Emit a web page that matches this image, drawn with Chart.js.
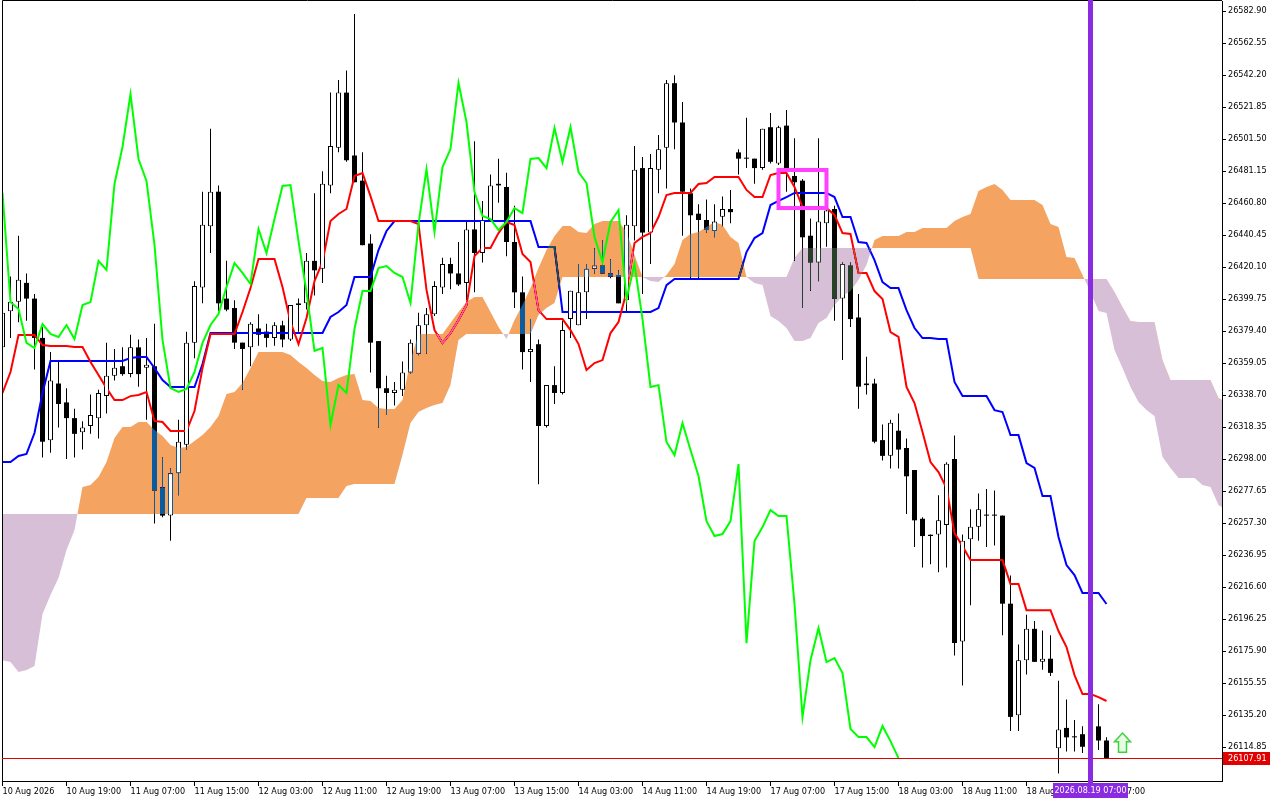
<!DOCTYPE html>
<html>
<head>
<meta charset="utf-8">
<title>Ichimoku H1</title>
<script src="https://cdn.jsdelivr.net/npm/chart.js@4.4.1/dist/chart.umd.min.js"></script>
<style>
  html, body { margin: 0; padding: 0; background: #fff; }
  canvas { display: block; }
</style>
</head>
<body>
<canvas id="ichimokuChart" width="1280" height="800"></canvas>
<script>
const FONT = "'DejaVu Sans Condensed', 'DejaVu Sans', sans-serif";

// time axis: one label every 8 bars
const tickBars = [0, 8, 16, 24, 32, 40, 48, 56, 64, 72, 80, 88, 96, 104, 112, 120, 128, 136];
const timeLabels = ['10 Aug 2026', '10 Aug 19:00', '11 Aug 07:00', '11 Aug 15:00', '12 Aug 03:00',
  '12 Aug 11:00', '12 Aug 19:00', '13 Aug 07:00', '13 Aug 15:00', '14 Aug 03:00', '14 Aug 11:00',
  '14 Aug 19:00', '17 Aug 07:00', '17 Aug 15:00', '18 Aug 03:00', '18 Aug 11:00', '18 Aug 19:00', '19 Aug 07:00'];

const priceTicks = [26582.90, 26562.55, 26542.20, 26521.85, 26501.50, 26481.15, 26460.80, 26440.45,
  26420.10, 26399.75, 26379.40, 26359.05, 26338.70, 26318.35, 26298.00, 26277.65, 26257.30, 26236.95,
  26216.60, 26196.25, 26175.90, 26155.55, 26135.20, 26114.85];

const opens = [
  26369, 26392, 26398, 26410, 26400, 26375, 26310, 26346, 26334, 26324,
  26315, 26319, 26324, 26338, 26351, 26357, 26352, 26369, 26356, 26357,
  26280, 26262, 26289, 26307, 26372, 26407, 26446, 26468, 26400, 26394,
  26372, 26369, 26381, 26379, 26375, 26383, 26374, 26396, 26397, 26424,
  26419, 26472, 26496, 26531, 26491, 26475, 26435, 26373, 26343, 26340,
  26342, 26353, 26365, 26383, 26390, 26407, 26422, 26416, 26410, 26444,
  26429, 26450, 26473, 26471, 26436, 26404, 26366, 26371, 26319, 26345,
  26340, 26387, 26383, 26404, 26419, 26421, 26416, 26415, 26399, 26446,
  26483, 26442, 26482, 26496, 26537, 26512, 26467, 26454, 26450, 26443,
  26452, 26457, 26493, 26489, 26489, 26483, 26509, 26486, 26510, 26478,
  26475, 26440, 26423, 26448, 26457, 26400, 26421, 26388, 26346, 26346,
  26310, 26300, 26316, 26305, 26291, 26260, 26249, 26250, 26256, 26298,
  26182, 26247, 26255, 26262, 26262, 26262, 26206, 26135, 26170, 26190,
  26169, 26171, 26114, 26127, 26121, 26123, 26119, 26128, 26119];
const highs = [
  26396, 26414, 26440, 26416, 26403, 26382, 26366, 26361, 26343, 26330,
  26322, 26339, 26342, 26372, 26368, 26369, 26377, 26374, 26375, 26384,
  26299, 26292, 26323, 26379, 26411, 26468, 26508, 26472, 26424, 26399,
  26372, 26385, 26390, 26384, 26385, 26386, 26396, 26400, 26429, 26467,
  26481, 26531, 26539, 26545, 26581, 26493, 26441, 26373, 26351, 26347,
  26360, 26374, 26391, 26394, 26411, 26426, 26426, 26436, 26449, 26500,
  26462, 26479, 26489, 26480, 26459, 26414, 26387, 26374, 26345, 26357,
  26386, 26405, 26422, 26422, 26432, 26437, 26425, 26418, 26453, 26497,
  26490, 26492, 26504, 26539, 26542, 26525, 26470, 26460, 26463, 26460,
  26465, 26469, 26495, 26515, 26489, 26508, 26518, 26510, 26520, 26502,
  26476, 26451, 26502, 26458, 26459, 26423, 26423, 26403, 26363, 26349,
  26320, 26323, 26327, 26311, 26291, 26261, 26250, 26275, 26296, 26313,
  26250, 26266, 26276, 26279, 26278, 26262, 26224, 26180, 26199, 26195,
  26189, 26186, 26157, 26145, 26132, 26128, 26133, 26142, 26121];
const lows = [
  26364, 26375, 26385, 26386, 26355, 26299, 26302, 26318, 26298, 26299,
  26304, 26314, 26311, 26327, 26348, 26351, 26350, 26344, 26323, 26257,
  26261, 26246, 26275, 26304, 26362, 26397, 26429, 26392, 26392, 26368,
  26342, 26357, 26370, 26369, 26370, 26369, 26373, 26379, 26393, 26402,
  26410, 26467, 26493, 26487, 26474, 26434, 26353, 26318, 26326, 26332,
  26338, 26352, 26364, 26365, 26389, 26403, 26406, 26408, 26399, 26404,
  26423, 26449, 26461, 26427, 26394, 26355, 26347, 26282, 26318, 26333,
  26339, 26375, 26383, 26387, 26416, 26416, 26413, 26397, 26392, 26437,
  26403, 26422, 26467, 26470, 26495, 26440, 26413, 26413, 26442, 26439,
  26446, 26448, 26479, 26483, 26473, 26482, 26486, 26485, 26468, 26424,
  26394, 26405, 26411, 26433, 26386, 26361, 26382, 26330, 26339, 26308,
  26297, 26292, 26292, 26263, 26242, 26229, 26231, 26226, 26229, 26173,
  26154, 26205, 26246, 26242, 26243, 26186, 26125, 26125, 26161, 26169,
  26164, 26160, 26098, 26112, 26112, 26111, 26114, 26113, 26107.91];
const closes = [
  26391, 26398, 26412, 26400, 26375, 26309, 26348, 26333, 26324, 26314,
  26318, 26326, 26340, 26351, 26356, 26352, 26369, 26352, 26358, 26278,
  26262, 26289, 26309, 26372, 26408, 26447, 26468, 26397, 26393, 26372,
  26368, 26384, 26377, 26375, 26383, 26374, 26396, 26397, 26424, 26418,
  26473, 26497, 26531, 26488, 26474, 26434, 26372, 26343, 26340, 26342,
  26353, 26372, 26383, 26390, 26408, 26422, 26416, 26409, 26444, 26429,
  26450, 26472, 26472, 26436, 26404, 26366, 26368, 26319, 26345, 26340,
  26380, 26405, 26404, 26419, 26421, 26416, 26414, 26397, 26447, 26482,
  26442, 26483, 26495, 26537, 26512, 26468, 26453, 26450, 26444, 26449,
  26457, 26455, 26489, 26489, 26483, 26508, 26487, 26509, 26481, 26474,
  26439, 26423, 26449, 26456, 26400, 26422, 26387, 26344, 26345, 26309,
  26300, 26321, 26304, 26287, 26259, 26249, 26250, 26259, 26295, 26181,
  26246, 26255, 26266, 26262, 26262, 26206, 26134, 26170, 26190, 26169,
  26171, 26162, 26126, 26121, 26121, 26115, 26128, 26119, 26107.91];

// Tenkan-sen (red)
const tenkan = [
  26340.0, 26353.3, 26376.8, 26376.8, 26376.8, 26370.5, 26369.8, 26369.8, 26369.8, 26369.2,
  26369.2, 26359.7, 26351.4, 26343.1, 26335.5, 26335.5, 26338.0, 26338.7, 26340.6, 26322.2,
  26321.5, 26315.8, 26315.8, 26315.8, 26328.5, 26355.9, 26377.5, 26377.5, 26377.5, 26377.5,
  26391.5, 26406.7, 26425.2, 26425.2, 26425.2, 26407.4, 26385.1, 26371.1, 26387.7, 26411.2,
  26423.3, 26449.3, 26453.8, 26457.0, 26478.0, 26479.9, 26465.2, 26449.3, 26449.3, 26449.3,
  26449.3, 26449.3, 26447.4, 26405.5, 26380.0, 26371.8, 26378.1, 26386.4, 26395.9, 26427.1,
  26432.2, 26432.2, 26441.7, 26448.7, 26446.8, 26428.4, 26423.3, 26392.7, 26387.0, 26387.0,
  26387.0, 26380.0, 26371.1, 26354.6, 26359.0, 26360.9, 26378.1, 26385.1, 26404.2, 26435.4,
  26439.2, 26441.7, 26451.9, 26465.9, 26467.2, 26467.2, 26467.2, 26472.9, 26473.5, 26477.3,
  26477.3, 26477.3, 26477.3, 26469.1, 26464.6, 26464.6, 26478.6, 26479.9, 26479.9, 26471.0,
  26458.2, 26458.2, 26458.2, 26457.6, 26453.2, 26441.7, 26441.1, 26416.3, 26416.3, 26404.8,
  26399.7, 26378.7, 26375.6, 26343.8, 26333.6, 26315.2, 26296.1, 26289.7, 26279.5, 26250.9,
  26242.6, 26233.7, 26233.7, 26233.7, 26233.7, 26233.7, 26218.5, 26218.5, 26201.9, 26201.9,
  26201.9, 26201.9, 26188.6, 26178.4, 26160.6, 26148.5, 26148.5, 26146.6, 26144.1];

// Kijun-sen (blue)
const kijun = [
  26296.1, 26296.1, 26299.9, 26301.2, 26314.5, 26340.0, 26360.3, 26360.3, 26360.3, 26360.3,
  26360.3, 26360.3, 26360.3, 26360.3, 26360.3, 26360.3, 26362.2, 26362.8, 26362.8, 26355.9,
  26348.2, 26343.8, 26343.8, 26343.8, 26343.8, 26358.4, 26378.1, 26378.1, 26378.1, 26378.1,
  26378.1, 26378.1, 26378.1, 26378.1, 26378.1, 26378.1, 26378.1, 26378.1, 26378.1, 26378.1,
  26378.1, 26388.3, 26391.5, 26395.9, 26413.7, 26413.7, 26413.7, 26430.9, 26443.0, 26449.3,
  26449.3, 26449.3, 26449.3, 26449.3, 26449.3, 26449.3, 26449.3, 26449.3, 26449.3, 26449.3,
  26449.3, 26449.3, 26449.3, 26449.3, 26449.3, 26449.3, 26449.3, 26432.8, 26432.8, 26432.8,
  26391.5, 26391.5, 26391.5, 26391.5, 26391.5, 26391.5, 26391.5, 26391.5, 26391.5, 26391.5,
  26391.5, 26391.5, 26394.0, 26408.6, 26412.5, 26412.5, 26412.5, 26412.5, 26412.5, 26412.5,
  26412.5, 26412.5, 26412.5, 26429.6, 26438.5, 26441.7, 26459.5, 26462.1, 26464.6, 26467.2,
  26467.2, 26467.2, 26467.2, 26467.2, 26464.6, 26451.9, 26451.9, 26436.0, 26435.4, 26424.5,
  26410.5, 26406.7, 26406.7, 26392.7, 26381.3, 26374.9, 26374.9, 26374.3, 26374.3, 26347.0,
  26338.0, 26338.0, 26338.0, 26338.0, 26329.1, 26327.9, 26313.2, 26313.2, 26295.4, 26292.3,
  26274.4, 26274.4, 26248.4, 26230.6, 26224.2, 26212.8, 26212.8, 26212.8, 26205.8];

// Senkou Span A / B (cloud, already shifted forward)
const spanA = [
  26170.1, 26168.9, 26162.5, 26163.8, 26166.3, 26199.4, 26211.5, 26222.3, 26240.1, 26252.8,
  26280.2, 26281.4, 26286.5, 26296.1, 26311.3, 26318.3, 26318.3, 26321.5, 26321.5, 26316.4,
  26312.6, 26306.9, 26305.0, 26305.6, 26309.4, 26313.2, 26318.3, 26325.3, 26339.3, 26340.6,
  26346.3, 26355.9, 26366.0, 26366.0, 26366.0, 26366.0, 26364.1, 26359.7, 26355.9, 26351.4,
  26347.6, 26346.9, 26349.5, 26351.4, 26352.0, 26335.5, 26334.9, 26330.4, 26329.8, 26329.8,
  26335.5, 26360.9, 26377.5, 26377.5, 26377.5, 26377.5, 26384.5, 26391.5, 26397.8, 26401.0,
  26401.0, 26391.5, 26381.9, 26374.3, 26386.4, 26395.9, 26406.7, 26419.5, 26430.9, 26439.8,
  26446.2, 26446.2, 26442.4, 26441.7, 26447.4, 26449.3, 26449.3, 26449.3, 26442.4, 26427.7,
  26413.7, 26411.2, 26410.5, 26415.0, 26422.0, 26437.3, 26441.1, 26442.4, 26445.5, 26448.7,
  26446.8, 26439.2, 26435.4, 26413.7, 26409.9, 26408.6, 26388.9, 26385.7, 26381.3, 26373.0,
  26373.0, 26374.9, 26384.5, 26387.7, 26395.9, 26401.6, 26404.8, 26411.8, 26421.4, 26437.3,
  26439.8, 26439.8, 26439.8, 26442.4, 26442.4, 26444.9, 26444.9, 26444.9, 26444.9, 26449.3,
  26451.9, 26453.8, 26468.4, 26471.0, 26472.9, 26469.1, 26462.7, 26462.7, 26462.7, 26462.7,
  26459.5, 26447.4, 26445.5, 26426.5, 26425.8, 26415.0, 26404.2, 26392.1, 26390.8, 26367.3,
  26355.9, 26343.8, 26334.2, 26329.1, 26325.3, 26299.2, 26292.3, 26285.9, 26285.9, 26285.9,
  26281.4, 26280.2, 26268.7, 26265.5];
const spanB = [
  26263.0, 26263.0, 26263.0, 26263.0, 26263.0, 26263.0, 26263.0, 26263.0, 26263.0, 26263.0,
  26263.0, 26263.0, 26263.0, 26263.0, 26263.0, 26263.0, 26263.0, 26263.0, 26263.0, 26263.0,
  26263.0, 26263.0, 26263.0, 26263.0, 26263.0, 26263.0, 26263.0, 26263.0, 26263.0, 26263.0,
  26263.0, 26263.0, 26263.0, 26263.0, 26263.0, 26263.0, 26263.0, 26263.0, 26273.2, 26273.2,
  26273.2, 26273.2, 26273.2, 26280.8, 26282.1, 26282.1, 26282.1, 26282.1, 26282.1, 26282.1,
  26300.5, 26320.9, 26327.9, 26330.4, 26332.3, 26333.6, 26345.0, 26373.7, 26377.5, 26377.5,
  26377.5, 26377.5, 26377.5, 26377.5, 26377.5, 26377.5, 26377.5, 26389.6, 26394.0, 26397.2,
  26413.7, 26413.7, 26413.7, 26413.7, 26413.7, 26413.7, 26413.7, 26413.7, 26413.7, 26413.7,
  26413.7, 26413.7, 26413.7, 26413.7, 26413.7, 26413.7, 26413.7, 26413.7, 26413.7, 26413.7,
  26413.7, 26413.7, 26413.7, 26413.7, 26413.7, 26413.7, 26413.7, 26413.7, 26413.7, 26425.8,
  26432.2, 26432.2, 26432.2, 26432.2, 26432.2, 26432.2, 26432.2, 26432.2, 26432.2, 26432.2,
  26432.2, 26432.2, 26432.2, 26432.2, 26432.2, 26432.2, 26432.2, 26432.2, 26432.2, 26432.2,
  26432.2, 26432.2, 26412.5, 26412.5, 26412.5, 26412.5, 26412.5, 26412.5, 26412.5, 26412.5,
  26412.5, 26412.5, 26412.5, 26412.5, 26412.5, 26412.5, 26412.5, 26412.5, 26412.5, 26404.2,
  26394.6, 26385.7, 26385.1, 26385.1, 26385.1, 26360.9, 26348.2, 26348.2, 26348.2, 26348.2,
  26348.2, 26348.2, 26336.8, 26334.2];

// Chikou span (green, shifted back)
const chikou = [
  26467.2, 26397.8, 26393.4, 26371.8, 26368.6, 26383.8, 26377.5, 26375.6, 26383.2, 26374.3,
  26395.9, 26397.8, 26423.9, 26418.2, 26472.9, 26496.4, 26530.1, 26488.8, 26474.8, 26434.1,
  26373.7, 26343.1, 26340.6, 26342.5, 26353.3, 26371.8, 26383.2, 26390.2, 26407.4, 26422.6,
  26416.3, 26409.3, 26444.3, 26429.0, 26450.6, 26471.6, 26472.2, 26436.6, 26404.2, 26366.7,
  26368.6, 26319.6, 26345.0, 26340.0, 26380.7, 26404.8, 26404.8, 26419.4, 26420.7, 26416.3,
  26413.7, 26397.2, 26447.4, 26482.4, 26442.4, 26483.7, 26495.1, 26537.1, 26512.3, 26467.8,
  26452.5, 26450.6, 26443.6, 26448.7, 26457.6, 26454.4, 26488.8, 26489.4, 26483.0, 26508.5,
  26486.9, 26509.1, 26480.5, 26473.5, 26439.2, 26423.3, 26448.7, 26456.3, 26399.7, 26422.0,
  26387.0, 26343.8, 26345.0, 26308.8, 26300.5, 26320.9, 26303.7, 26287.2, 26258.5, 26249.0,
  26250.3, 26258.5, 26294.8, 26180.9, 26245.8, 26254.7, 26265.5, 26261.7, 26261.7, 26205.8,
  26133.9, 26170.1, 26190.5, 26168.9, 26171.4, 26161.9, 26126.3, 26121.2, 26121.2, 26114.8,
  26128.2, 26118.6, 26107.8];

// chart objects drawn on top
const lastPrice = 26107.91;
const markerBar = 136;
const markerText = '2026.08.19 07:00';
const boxBars = [97, 103];
const boxPrices = [26457.6, 26481.8];
const arrowBar = 140;
const arrowPrices = [26111.6, 26123.7];

document.addEventListener("DOMContentLoaded", function () {

  const wicks = [], bullBodies = [], bearBodies = [];
  for (let i = 0; i < opens.length; i++) {
    wicks.push({ x: i, y: [lows[i], highs[i]] });
    if (closes[i] > opens[i]) bullBodies.push({ x: i, y: [opens[i], closes[i]] });
    else bearBodies.push({ x: i, y: [closes[i], opens[i]] });
  }
  const toPoints = arr => arr.map((v, i) => ({ x: i, y: v }));

  const overlay = {
    id: 'mt5Overlay',
    beforeDraw(chart) {
      const c = chart.ctx;
      c.save();
      c.fillStyle = '#fff';
      c.fillRect(0, 0, chart.width, chart.height);
      c.restore();
    },
    // the cloud is painted as an inverting fill, like the terminal does
    afterDatasetDraw(chart, args) {
      if (args.index === 5) chart.ctx.globalCompositeOperation = 'difference';
      if (args.index === 6) chart.ctx.globalCompositeOperation = 'source-over';
    },
    afterDraw(chart) {
      const c = chart.ctx;
      const xs = chart.scales.x, ys = chart.scales.y, area = chart.chartArea;
      c.save();
      c.globalCompositeOperation = 'source-over';

      // frame
      c.strokeStyle = '#000';
      c.lineWidth = 1;
      c.beginPath();
      c.moveTo(area.left + 0.5, area.bottom);
      c.lineTo(area.left + 0.5, area.top - 0.5);
      c.lineTo(area.right, area.top - 0.5);
      c.stroke();

      // bid line
      const py = Math.round(ys.getPixelForValue(lastPrice)) + 0.5;
      c.strokeStyle = '#e00000';
      c.beginPath();
      c.moveTo(area.left, py);
      c.lineTo(area.right, py);
      c.stroke();

      // rectangle object
      const bx1 = xs.getPixelForValue(boxBars[0]), bx2 = xs.getPixelForValue(boxBars[1]);
      const by1 = ys.getPixelForValue(boxPrices[1]), by2 = ys.getPixelForValue(boxPrices[0]);
      c.strokeStyle = '#ff40ff';
      c.lineWidth = 4;
      c.strokeRect(bx1, by1, bx2 - bx1, by2 - by1);

      // vertical line object
      const vx = xs.getPixelForValue(markerBar);
      c.fillStyle = '#8a2be2';
      c.fillRect(Math.round(vx - 2.5), 0, 5, area.bottom + 3);

      // arrow object
      const ax = xs.getPixelForValue(arrowBar);
      const aTop = ys.getPixelForValue(arrowPrices[1]), aBot = ys.getPixelForValue(arrowPrices[0]);
      const neck = aTop + (aBot - aTop) * 0.45;
      c.beginPath();
      c.moveTo(ax, aTop);
      c.lineTo(ax + 8, neck);
      c.lineTo(ax + 4, neck);
      c.lineTo(ax + 4, aBot);
      c.lineTo(ax - 4, aBot);
      c.lineTo(ax - 4, neck);
      c.lineTo(ax - 8, neck);
      c.closePath();
      c.fillStyle = '#e6ffe2';
      c.fill();
      c.strokeStyle = '#3fd03f';
      c.lineWidth = 1.5;
      c.stroke();

      // price and time tags
      c.font = '9px ' + FONT;
      c.textBaseline = 'middle';
      c.fillStyle = '#e00000';
      c.fillRect(area.right + 1, py - 6.5, 47, 13);
      c.fillStyle = '#fff';
      c.textAlign = 'left';
      c.fillText(lastPrice.toFixed(2), area.right + 6, py);

      c.fillStyle = '#8a2be2';
      c.fillRect(Math.round(vx - 37.5), area.bottom + 2, 75, 15);
      c.fillStyle = '#fff';
      c.textAlign = 'center';
      c.fillText(markerText, vx, area.bottom + 9.5);
      c.restore();
    }
  };

  const ctx = document.getElementById("ichimokuChart").getContext("2d");
  new Chart(ctx, {
    type: 'line',
    data: {
      datasets: [
        { label: 'Senkou B', data: toPoints(spanB), borderColor: 'rgba(0,0,0,0)', borderWidth: 1,
          pointRadius: 0, fill: false, order: 12 },
        { type: 'bar', label: 'wicks', data: wicks, backgroundColor: '#000', borderWidth: 0,
          barThickness: 1, grouped: false, inflateAmount: 0, order: 11 },
        { type: 'bar', label: 'bear', data: bearBodies, backgroundColor: '#000', borderWidth: 0,
          barThickness: 5, minBarLength: 1, grouped: false, inflateAmount: 0, order: 10 },
        { type: 'bar', label: 'bull', data: bullBodies, backgroundColor: '#fff', borderColor: '#000',
          borderWidth: 1, borderSkipped: false, barThickness: 5, minBarLength: 1, grouped: false,
          inflateAmount: 0, order: 9 },
        { label: 'Kijun-sen', data: toPoints(kijun), borderColor: '#0000ff', borderWidth: 2,
          pointRadius: 0, fill: false, tension: 0, order: 8 },
        { label: 'Tenkan-sen', data: toPoints(tenkan), borderColor: '#ff0000', borderWidth: 2,
          pointRadius: 0, fill: false, tension: 0, order: 7 },
        { label: 'Senkou A', data: toPoints(spanA), borderColor: 'rgba(0,0,0,0)', borderWidth: 1,
          pointRadius: 0, tension: 0, order: 6,
          fill: { target: 0, above: 'rgb(11,91,159)', below: 'rgb(39,64,39)' } },
        { type: 'bar', label: 'bull fill', data: bullBodies, backgroundColor: '#fff',
          borderColor: 'rgba(0,0,0,0)', borderWidth: 1, borderSkipped: false, barThickness: 5,
          grouped: false, inflateAmount: 0, order: 5 },
        { label: 'Chikou Span', data: toPoints(chikou), borderColor: '#00ff00', borderWidth: 2,
          pointRadius: 0, fill: false, tension: 0, order: 4 }
      ]
    },
    options: {
      responsive: false,
      devicePixelRatio: 1,
      animation: false,
      events: [],
      layout: { padding: { left: 2, top: 1, right: 0, bottom: 0 } },
      plugins: {
        legend: { display: false },
        tooltip: { enabled: false },
        filler: { drawTime: 'beforeDatasetDraw' }
      },
      scales: {
        x: {
          type: 'linear',
          position: 'bottom',
          min: -0.0625,
          max: 152.4375,
          offset: false,
          afterBuildTicks: axis => { axis.ticks = tickBars.map(v => ({ value: v })); },
          afterFit: axis => { axis.height = 19; axis.paddingLeft = 0; axis.paddingRight = 0; },
          grid: { drawOnChartArea: false, drawTicks: true, tickLength: 5, color: '#000', offset: false },
          border: { display: true, color: '#000' },
          ticks: {
            autoSkip: false, maxRotation: 0, minRotation: 0, align: 'start', padding: 0,
            color: '#000', font: { family: FONT, size: 9 },
            callback: value => timeLabels[tickBars.indexOf(value)]
          }
        },
        y: {
          type: 'linear',
          position: 'right',
          min: 26093.24,
          max: 26589.26,
          afterBuildTicks: axis => { axis.ticks = priceTicks.map(v => ({ value: v })); },
          afterFit: axis => { axis.width = 58; axis.paddingTop = 0; axis.paddingBottom = 0; },
          grid: { drawOnChartArea: false, drawTicks: true, tickLength: 4, color: '#000' },
          border: { display: true, color: '#000' },
          ticks: {
            autoSkip: false, padding: 2, color: '#000', font: { family: FONT, size: 9 },
            callback: value => value.toFixed(2)
          }
        }
      }
    },
    plugins: [overlay]
  });
});
</script>
</body>
</html>
